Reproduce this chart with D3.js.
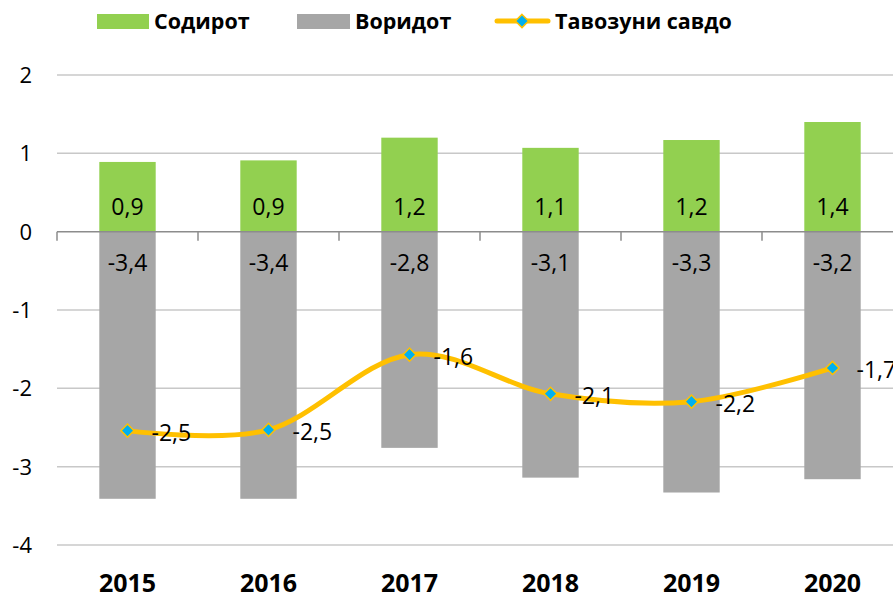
<!DOCTYPE html>
<html>
<head>
<meta charset="utf-8">
<script src="https://cdn.jsdelivr.net/npm/d3@7"></script>
<style>
  body { margin: 0; background: #fff; }
  svg { font-family: "Open Sans", "Noto Sans", sans-serif; }
</style>
</head>
<body>
<div id="chart"></div>
<script>
// data
const years = ["2015", "2016", "2017", "2018", "2019", "2020"];
const exports = [0.89, 0.91, 1.2, 1.07, 1.17, 1.4];        // Содирот
const imports = [-3.41, -3.41, -2.76, -3.14, -3.33, -3.16]; // Воридот
const balance = [-2.54, -2.53, -1.57, -2.07, -2.17, -1.74]; // Тавозуни савдо
const yTicks = [2, 1, 0, -1, -2, -3, -4];

const width = 893, height = 596;
const svg = d3.select("#chart").append("svg")
    .attr("width", width)
    .attr("height", height);

const x = d3.scaleBand()
    .domain(years)
    .range([57, 903])
    .paddingInner(0.6)
    .paddingOuter(0.3);

const y = d3.scaleLinear()
    .domain([-4, 2])
    .range([545, 75]);

const fmt = v => d3.format(".1f")(v).replace(".", ",").replace("−", "-");

// grid
svg.append("g")
  .selectAll("line")
  .data(yTicks.filter(d => d !== 0))
  .enter().append("line")
    .attr("x1", 57).attr("x2", width)
    .attr("y1", d => y(d)).attr("y2", d => y(d))
    .attr("stroke", "#c8c8c8")
    .attr("stroke-width", 1.5);

// y labels
svg.append("g")
  .selectAll("text")
  .data(yTicks)
  .enter().append("text")
    .attr("x", 32)
    .attr("y", d => y(d))
    .attr("dy", "0.36em")
    .attr("text-anchor", "end")
    .attr("font-size", 22)
    .attr("fill", "#000")
    .text(d => d < 0 ? "-" + Math.abs(d) : d);

// bars
svg.append("g")
  .selectAll("rect")
  .data(exports)
  .enter().append("rect")
    .attr("x", (d, i) => x(years[i]))
    .attr("width", x.bandwidth())
    .attr("y", d => y(d))
    .attr("height", d => y(0) - y(d))
    .attr("fill", "#92D050");

svg.append("g")
  .selectAll("rect")
  .data(imports)
  .enter().append("rect")
    .attr("x", (d, i) => x(years[i]))
    .attr("width", x.bandwidth())
    .attr("y", y(0))
    .attr("height", d => y(d) - y(0))
    .attr("fill", "#A6A6A6");

// zero axis with tick marks
const step = x.step();
svg.append("line")
    .attr("x1", 57).attr("x2", width)
    .attr("y1", y(0)).attr("y2", y(0))
    .attr("stroke", "#8c8c8c")
    .attr("stroke-width", 1.5);
svg.append("g")
  .selectAll("line")
  .data(d3.range(years.length + 1))
  .enter().append("line")
    .attr("x1", i => 57 + i * step).attr("x2", i => 57 + i * step)
    .attr("y1", y(0)).attr("y2", y(0) + 9)
    .attr("stroke", "#8c8c8c")
    .attr("stroke-width", 1.5);

// bar labels (inside base)
svg.append("g")
  .selectAll("text")
  .data(exports)
  .enter().append("text")
    .attr("x", (d, i) => x(years[i]) + x.bandwidth() / 2)
    .attr("y", y(0) - 25)
    .attr("dy", "0.36em")
    .attr("text-anchor", "middle")
    .attr("font-size", 23)
    .text(d => fmt(d));

svg.append("g")
  .selectAll("text")
  .data(imports)
  .enter().append("text")
    .attr("x", (d, i) => x(years[i]) + x.bandwidth() / 2)
    .attr("y", y(0) + 31)
    .attr("dy", "0.36em")
    .attr("text-anchor", "middle")
    .attr("font-size", 23)
    .text(d => fmt(d));

// balance line
const cx = i => x(years[i]) + x.bandwidth() / 2;
const line = d3.line()
    .x((d, i) => cx(i))
    .y(d => y(d))
    .curve(d3.curveCatmullRom.alpha(0));

svg.append("path")
    .datum(balance)
    .attr("d", line)
    .attr("fill", "none")
    .attr("stroke", "#FFC000")
    .attr("stroke-width", 5)
    .attr("stroke-linecap", "round");

const diamond = d3.symbol().type(d3.symbolDiamond2).size(110);
svg.append("g")
  .selectAll("path")
  .data(balance)
  .enter().append("path")
    .attr("transform", (d, i) => `translate(${cx(i)},${y(d)})`)
    .attr("d", diamond)
    .attr("fill", "#00B0F0")
    .attr("stroke", "#FFC000")
    .attr("stroke-width", 1.5);

svg.append("g")
  .selectAll("text")
  .data(balance)
  .enter().append("text")
    .attr("x", (d, i) => cx(i) + 24)
    .attr("y", d => y(d) + 2)
    .attr("dy", "0.36em")
    .attr("font-size", 23)
    .text(d => fmt(d));

// year labels
svg.append("g")
  .selectAll("text")
  .data(years)
  .enter().append("text")
    .attr("x", d => x(d) + x.bandwidth() / 2)
    .attr("y", 583)
    .attr("dy", "0.36em")
    .attr("text-anchor", "middle")
    .attr("font-size", 25)
    .attr("font-weight", "bold")
    .text(d => d);

// legend
const legend = svg.append("g").attr("font-size", 21.5).attr("font-weight", "bold");
legend.append("rect").attr("x", 97).attr("y", 14).attr("width", 52).attr("height", 15).attr("fill", "#92D050");
legend.append("text").attr("x", 154).attr("y", 21).attr("dy", "0.36em").text("Содирот");
legend.append("rect").attr("x", 297).attr("y", 14).attr("width", 53).attr("height", 15).attr("fill", "#A6A6A6");
legend.append("text").attr("x", 355).attr("y", 21).attr("dy", "0.36em").text("Воридот");
legend.append("line").attr("x1", 497).attr("x2", 548).attr("y1", 21).attr("y2", 21)
    .attr("stroke", "#FFC000").attr("stroke-width", 5).attr("stroke-linecap", "round");
legend.append("path").attr("transform", "translate(522,21)").attr("d", diamond)
    .attr("fill", "#00B0F0").attr("stroke", "#FFC000").attr("stroke-width", 1.5);
legend.append("text").attr("x", 555).attr("y", 21).attr("dy", "0.36em").text("Тавозуни савдо");
</script>
</body>
</html>
